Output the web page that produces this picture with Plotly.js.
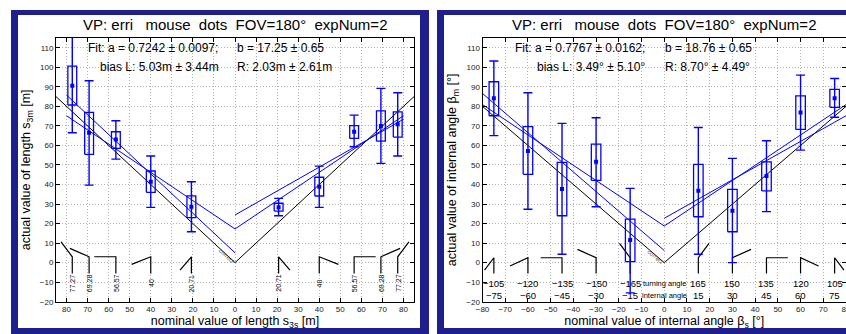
<!DOCTYPE html>
<html><head><meta charset="utf-8">
<script src="https://cdn.plot.ly/plotly-3.0.1.min.js"></script>
<style>html,body{margin:0;padding:0;background:#fff;overflow:hidden}#chart{width:846px;height:334px}</style>
</head><body><div id="chart"></div>
<script>
// ---------------- DATA ----------------
// Left panel: length s3 (m)
const lenNominal = [-77.27, -69.28, -56.57, -40, -20.71, 20.71, 40, 56.57, 69.28, 77.27];
const lenMean    = [90.5, 66.5, 63.1, 41.4, 28.6, 28.3, 38.9, 67.0, 69.9, 70.8];
const lenQ1      = [80.7, 55.4, 58.5, 36.0, 23.0, 26.4, 34.1, 63.6, 62.2, 64.3];
const lenQ3      = [100.6, 76.9, 67.0, 46.9, 34.2, 30.4, 43.7, 70.1, 77.7, 77.2];
const lenLow     = [66.5, 39.7, 53.0, 28.3, 15.8, 24.0, 28.3, 59.3, 50.8, 54.6];
const lenHigh    = [122, 93.1, 72.6, 54.6, 41.4, 32.9, 49.4, 75.5, 89.2, 87.0];
const lenCorrectX = [-85, 0, 85], lenCorrectY = [85, 0, 85];
const lenFitX = [-80, 0, 80],     lenFitY = [75.2, 17.25, 75.2];
const lenBiasLX = [-80, 0],       lenBiasLY = [85.8, 5.03];
const lenBiasRX = [0, 80],        lenBiasRY = [24.4, 73.4];
const lenGlyphTipX = [-82.6, -78.4, -66.8, -49.1, -26.1, 26.1, 49.1, 66.8, 78.4, 82.6];
const lenGlyphTipY = [10.6, 7.3, 3.0, -0.9, -3.8, -3.8, -0.9, 3.0, 7.3, 10.6];
const lenGlyphLabels = ["77.27","69.28","56.57","40","20.71","20.71","40","56.57","69.28","77.27"];
const lenTickVals = [-80,-70,-60,-50,-40,-30,-20,-10,0,10,20,30,40,50,60,70,80];
const lenTickText = ["80","70","60","50","40","30","20","10","0","10","20","30","40","50","60","70","80"];
const lenFitText = ["Fit: a = 0.7242 ± 0.0097;", "b = 17.25 ± 0.65", "bias L: 5.03m ± 3.44m", "R: 2.03m ± 2.61m"];

// Right panel: internal angle beta (deg)
const angNominal = [-75, -60, -45, -30, -15, 15, 30, 45, 60, 75];
const angMean    = [84.1, 57.1, 37.7, 51.6, 11.6, 36.8, 26.6, 44.3, 76.9, 84.1];
const angQ1      = [75.2, 45.2, 24.0, 42.1, 0.5, 23.5, 15.8, 36.7, 68.2, 79.5];
const angQ3      = [92.6, 69.6, 51.3, 60.7, 22.3, 50.3, 37.5, 51.6, 85.4, 88.7];
const angLow     = [65.0, 27.3, 4.3, 28.6, -15.5, 4.3, 0.0, 26.1, 57.6, 74.4];
const angHigh    = [103.2, 87.0, 71.3, 74.2, 38.0, 69.2, 53.4, 62.4, 96.0, 94.3];
const angCorrectX = [-80, 0, 80], angCorrectY = [80, 0, 80];
const angFitX = [-80, 0, 80],     angFitY = [80.9, 18.76, 80.9];
const angBiasLX = [-80, 0],       angBiasLY = [86.6, 6.2];
const angBiasRX = [0, 80],        angBiasRY = [22.7, 75.2];
const angGlyphTipX = [-79.1, -67.9, -54.4, -38.2, -19.7, 19.7, 38.2, 54.4, 67.9, 79.1];
const angGlyphTipY = [-3.8, -1.7, 2.5, 6.8, 9.9, 9.9, 6.8, 2.5, -1.7, -3.8];
const turnLabels     = ["−105","−120","−135","−150","−165","165","150","135","120","105"];
const internalLabels = ["−75","−60","−45","−30","−15","15","30","45","60","75"];
const angTickVals = [-80,-70,-60,-50,-40,-30,-20,-10,0,10,20,30,40,50,60,70,80];
const angFitText = ["Fit: a = 0.7767 ± 0.0162;", "b = 18.76 ± 0.65", "bias L: 3.49° ± 5.10°", "R: 8.70° ± 4.49°"];

const yTickVals = [-20,-10,0,10,20,30,40,50,60,70,80,90,100,110];

// ---------------- STYLE ----------------
const FONT = "Liberation Sans, Arial, Helvetica, sans-serif";
const BLUE = "#0000ff";
const FRAME = "#1e1e8c";
const W = 846, H = 334;
const px = x => x / W, py = y => 1 - y / H;
const BOX_HW = 2.1;

function boxPath(xs, lo, hi, hw) {
  const X = [], Y = [];
  xs.forEach((x, i) => {
    X.push(x - hw, x + hw, x + hw, x - hw, x - hw, null);
    Y.push(lo[i], lo[i], hi[i], hi[i], lo[i], null);
  });
  return {X, Y};
}
function glyphPath(xs, tx, ty, top, bot) {
  const X = [], Y = [];
  xs.forEach((x, i) => { X.push(tx[i], x, x, null); Y.push(ty[i], top, bot, null); });
  return {X, Y};
}
function panelTraces(xa, ya, nom, mean, q1, q3, lo, hi, cx, cy, fx, fy, blx, bly, brx, bry, gtx, gty, gTop) {
  const b = boxPath(nom, q1, q3, BOX_HW);
  const g = glyphPath(nom, gtx, gty, gTop, -5.5);
  const common = {xaxis: xa, yaxis: ya, hoverinfo: 'skip', showlegend: false};
  return [
    Object.assign({type:'scatter', mode:'lines', x: cx, y: cy, line:{color:'#000', width:1}}, common),
    Object.assign({type:'scatter', mode:'lines', x: g.X, y: g.Y, line:{color:'#000', width:1.2}, connectgaps:false}, common),
    Object.assign({type:'scatter', mode:'lines', x: fx, y: fy, line:{color:BLUE, width:1}}, common),
    Object.assign({type:'scatter', mode:'lines', x: blx, y: bly, line:{color:BLUE, width:1}}, common),
    Object.assign({type:'scatter', mode:'lines', x: brx, y: bry, line:{color:BLUE, width:1}}, common),
    Object.assign({type:'scatter', mode:'lines', x: b.X, y: b.Y, line:{color:BLUE, width:1.3}, connectgaps:false}, common),
    Object.assign({type:'scatter', mode:'markers', x: nom, y: mean,
      marker:{symbol:'square', size:4, color:BLUE},
      error_y:{type:'data', symmetric:false, array: hi.map((h,i)=>h-mean[i]), arrayminus: lo.map((l,i)=>mean[i]-l),
               color:BLUE, thickness:1.4, width:4.5}}, common)
  ];
}

const traces = [].concat(
  panelTraces('x','y', lenNominal, lenMean, lenQ1, lenQ3, lenLow, lenHigh,
    lenCorrectX, lenCorrectY, lenFitX, lenFitY, lenBiasLX, lenBiasLY, lenBiasRX, lenBiasRY, lenGlyphTipX, lenGlyphTipY, 3.0),
  panelTraces('x2','y2', angNominal, angMean, angQ1, angQ3, angLow, angHigh,
    angCorrectX, angCorrectY, angFitX, angFitY, angBiasLX, angBiasLY, angBiasRX, angBiasRY, angGlyphTipX, angGlyphTipY, 2.5)
);

const axisCommon = {
  showline:true, linecolor:'#000', linewidth:1, mirror:'ticks',
  ticks:'inside', ticklen:4, tickcolor:'#000', tickwidth:1,
  showgrid:true, gridcolor:'#b0b0b0', griddash:'1px,2px', gridwidth:1,
  zeroline:false, tickfont:{family:FONT, size:8, color:'#222'},
  automargin:false, fixedrange:true, ticklabeloverflow:'allow'
};
const yDom = [py(301.7), py(38)];
const titleFont = {family:FONT, size:12.5, color:'#000'};

const annotations = [];
function addText(text, x, y, opts) {
  annotations.push(Object.assign({text, x, y, xref:'paper', yref:'paper', showarrow:false,
    font:{family:FONT, size:12, color:'#000'}, xanchor:'left', yanchor:'middle', borderpad:0}, opts||{}));
}
const TITLE = "VP: erri\u00a0 \u00a0mouse\u00a0 dots\u00a0 FOV=180°\u00a0 expNum=2";
addText(TITLE, px(235), py(25), {xanchor:'center', font:{family:FONT, size:15, color:'#000'}});
addText(TITLE, px(664), py(25), {xanchor:'center', font:{family:FONT, size:15, color:'#000'}});
addText(lenFitText[0], px(87), py(48));
addText(lenFitText[1], px(236), py(48));
addText(lenFitText[2], px(99), py(66.5));
addText(lenFitText[3], px(236), py(66.5));
addText(angFitText[0], px(514), py(48));
addText(angFitText[1], px(664), py(48));
addText(angFitText[2], px(536), py(66.5));
addText(angFitText[3], px(664), py(66.5));

lenNominal.forEach((x, i) => annotations.push({text: lenGlyphLabels[i], x, y: -10.5, xref:'x', yref:'y',
  showarrow:false, textangle:-90, font:{family:FONT, size:7, color:'#000'}, xanchor:'center', yanchor:'middle', borderpad:0}));
angNominal.forEach((x, i) => {
  annotations.push({text: turnLabels[i], x, y: -10.6, xref:'x2', yref:'y2', showarrow:false,
    font:{family:FONT, size:9.5, color:'#000'}, xanchor:'center', yanchor:'middle', borderpad:0});
  annotations.push({text: internalLabels[i], x, y: -16.6, xref:'x2', yref:'y2', showarrow:false,
    font:{family:FONT, size:9.5, color:'#000'}, xanchor:'center', yanchor:'middle', borderpad:0});
});
annotations.push({text:'turning angle', x:0, y:-10.6, xref:'x2', yref:'y2', showarrow:false,
  font:{family:FONT, size:7.5, color:'#000'}, xanchor:'center', yanchor:'middle', borderpad:0});
annotations.push({text:'internal angle', x:0, y:-16.6, xref:'x2', yref:'y2', showarrow:false,
  font:{family:FONT, size:7.5, color:'#000'}, xanchor:'center', yanchor:'middle', borderpad:0});
annotations.push({text:'correct', x:-3.9, y:3.2, xref:'x', yref:'y', showarrow:false, textangle:43,
  font:{family:FONT, size:6, color:'#555'}, xanchor:'center', yanchor:'middle', borderpad:0});
annotations.push({text:'correct', x:-3.9, y:2.8, xref:'x2', yref:'y2', showarrow:false, textangle:41,
  font:{family:FONT, size:6, color:'#555'}, xanchor:'center', yanchor:'middle', borderpad:0});

const shapes = [
  {type:'rect', xref:'paper', yref:'paper', x0:px(11), x1:px(429), y0:py(336), y1:py(10), fillcolor:FRAME, line:{width:0}, layer:'below'},
  {type:'rect', xref:'paper', yref:'paper', x0:px(18), x1:px(420), y0:py(328), y1:py(15), fillcolor:'#fff', line:{width:0}, layer:'below'},
  {type:'rect', xref:'paper', yref:'paper', x0:px(437), x1:px(870), y0:py(336), y1:py(10), fillcolor:FRAME, line:{width:0}, layer:'below'},
  {type:'rect', xref:'paper', yref:'paper', x0:px(444), x1:px(862), y0:py(328), y1:py(15), fillcolor:'#fff', line:{width:0}, layer:'below'}
];

const layout = {
  width: W, height: H, margin:{l:0, r:0, t:0, b:0},
  paper_bgcolor:'#fff', plot_bgcolor:'rgba(0,0,0,0)', showlegend:false,
  font:{family:FONT},
  xaxis: Object.assign({}, axisCommon, {domain:[px(56), px(414)], range:[-85, 85], anchor:'y',
    tickmode:'array', tickvals: lenTickVals, ticktext: lenTickText,
    title:{text:'nominal value of length s<sub>3s</sub> [m]', font:titleFont, standoff:2}}),
  yaxis: Object.assign({}, axisCommon, {domain:yDom, range:[-20, 115], anchor:'x',
    tickmode:'array', tickvals: yTickVals,
    title:{text:'actual value of length s<sub>3m</sub> [m]', font:titleFont, standoff:6}}),
  xaxis2: Object.assign({}, axisCommon, {domain:[px(482.5), 1], range:[-80, 80], anchor:'y2',
    tickmode:'array', tickvals: angTickVals,
    title:{text:'nominal value of internal angle β<sub>s</sub> [°]', font:titleFont, standoff:2}}),
  yaxis2: Object.assign({}, axisCommon, {domain:yDom, range:[-20, 115], anchor:'x2',
    tickmode:'array', tickvals: yTickVals,
    title:{text:'actual value of internal angle β<sub>m</sub> [°]', font:titleFont, standoff:6}}),
  annotations, shapes
};

Plotly.newPlot('chart', traces, layout, {staticPlot:true, displayModeBar:false});
</script></body></html>
